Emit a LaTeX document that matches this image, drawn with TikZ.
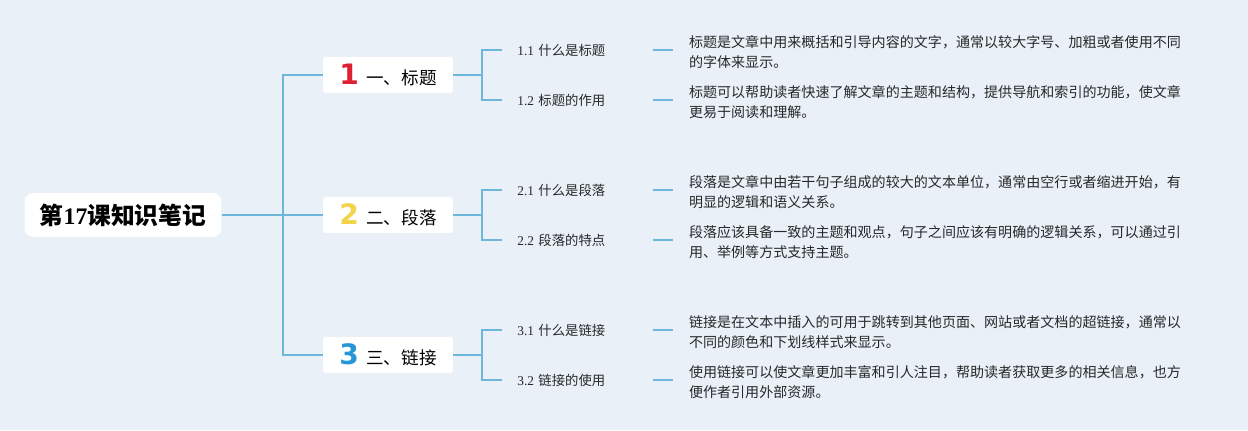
\documentclass[tikz,border=0pt]{standalone}
\usepackage{fontspec}
\setmainfont{Liberation Serif}
\newfontfamily\cjk{Noto Sans CJK SC}
\newfontfamily\numfont{DejaVu Sans}
\usetikzlibrary{positioning}

\definecolor{bgblue}{RGB}{233,240,248}
\definecolor{linkblue}{RGB}{110,182,218}
\definecolor{textgray}{RGB}{40,40,40}
\definecolor{numred}{RGB}{222,32,50}
\definecolor{numyellow}{RGB}{242,212,74}
\definecolor{numblue}{RGB}{38,150,214}

\begin{document}
\begin{tikzpicture}[
    x=0.02cm, y=-0.02cm,
    rootbox/.style={rectangle, fill=white, rounded corners=5pt, minimum width=3.94cm, minimum height=0.88cm, font=\cjk\fontsize{13.5}{15}\selectfont\bfseries, text=black},
    topicbox/.style={rectangle, fill=white, rounded corners=1.5pt, minimum width=2.6cm, minimum height=0.72cm, inner sep=0pt, font=\cjk\fontsize{10}{12}\selectfont, text=black},
    subbox/.style={rectangle, anchor=west, text width=2.4cm, inner xsep=0.3cm, align=left, font=\fontsize{7.6}{9}\selectfont, text=textgray},
    descbox/.style={rectangle, anchor=west, inner xsep=0.32cm, align=left, font=\cjk\fontsize{8}{11.4}\selectfont, text=textgray},
    link/.style={draw=linkblue, line width=0.85pt}
]
    \fill[bgblue] (0,0) rectangle (1248,430);

    % root and topics
    \node[rootbox] (root) at (123,215) {第{\rmfamily 17}课知识笔记};
    \node[topicbox] (topic1) at (388,75) {{\numfont\bfseries\fontsize{16}{16}\selectfont\color{numred}1}\hspace{0.15cm}一、标题};
    \node[topicbox] (topic2) at (388,215) {{\numfont\bfseries\fontsize{16}{16}\selectfont\color{numyellow}2}\hspace{0.15cm}二、段落};
    \node[topicbox] (topic3) at (388,355) {{\numfont\bfseries\fontsize{16}{16}\selectfont\color{numblue}3}\hspace{0.15cm}三、链接};

    % subtopics
    \node[subbox] (sub11) at (502,50) {1.1 {\cjk 什么是标题}};
    \node[subbox] (sub12) at (502,100) {1.2 {\cjk 标题的作用}};
    \node[subbox] (sub21) at (502,190) {2.1 {\cjk 什么是段落}};
    \node[subbox] (sub22) at (502,240) {2.2 {\cjk 段落的特点}};
    \node[subbox] (sub31) at (502,330) {3.1 {\cjk 什么是链接}};
    \node[subbox] (sub32) at (502,380) {3.2 {\cjk 链接的使用}};

    % notes
    \node[descbox, right=0.4cm of sub11.east, yshift=-0.04cm] (note11) {标题是文章中用来概括和引导内容的文字，通常以较大字号、加粗或者使用不同\\的字体来显示。};
    \node[descbox, right=0.4cm of sub12.east, yshift=-0.04cm] (note12) {标题可以帮助读者快速了解文章的主题和结构，提供导航和索引的功能，使文章\\更易于阅读和理解。};
    \node[descbox, right=0.4cm of sub21.east, yshift=-0.04cm] (note21) {段落是文章中由若干句子组成的较大的文本单位，通常由空行或者缩进开始，有\\明显的逻辑和语义关系。};
    \node[descbox, right=0.4cm of sub22.east, yshift=-0.04cm] (note22) {段落应该具备一致的主题和观点，句子之间应该有明确的逻辑关系，可以通过引\\用、举例等方式支持主题。};
    \node[descbox, right=0.4cm of sub31.east, yshift=-0.04cm] (note31) {链接是在文本中插入的可用于跳转到其他页面、网站或者文档的超链接，通常以\\不同的颜色和下划线样式来显示。};
    \node[descbox, right=0.4cm of sub32.east, yshift=-0.04cm] (note32) {使用链接可以使文章更加丰富和引人注目，帮助读者获取更多的相关信息，也方\\便作者引用外部资源。};

    % connectors
    \coordinate (trunk) at (283,215);
    \coordinate (fork1) at (482,75);
    \coordinate (fork2) at (482,215);
    \coordinate (fork3) at (482,355);

    \draw[link] (root.east) -- (trunk);
    \draw[link] (trunk) |- (topic1.west);
    \draw[link] (trunk) -- (topic2.west);
    \draw[link] (trunk) |- (topic3.west);

    \draw[link] (topic1.east) -- (fork1);
    \draw[link] (fork1) |- (sub11.west);
    \draw[link] (fork1) |- (sub12.west);
    \draw[link] (topic2.east) -- (fork2);
    \draw[link] (fork2) |- (sub21.west);
    \draw[link] (fork2) |- (sub22.west);
    \draw[link] (topic3.east) -- (fork3);
    \draw[link] (fork3) |- (sub31.west);
    \draw[link] (fork3) |- (sub32.west);

    \draw[link] (sub11.east) -- (note11.west |- sub11.east);
    \draw[link] (sub12.east) -- (note12.west |- sub12.east);
    \draw[link] (sub21.east) -- (note21.west |- sub21.east);
    \draw[link] (sub22.east) -- (note22.west |- sub22.east);
    \draw[link] (sub31.east) -- (note31.west |- sub31.east);
    \draw[link] (sub32.east) -- (note32.west |- sub32.east);
\end{tikzpicture}
\end{document}
